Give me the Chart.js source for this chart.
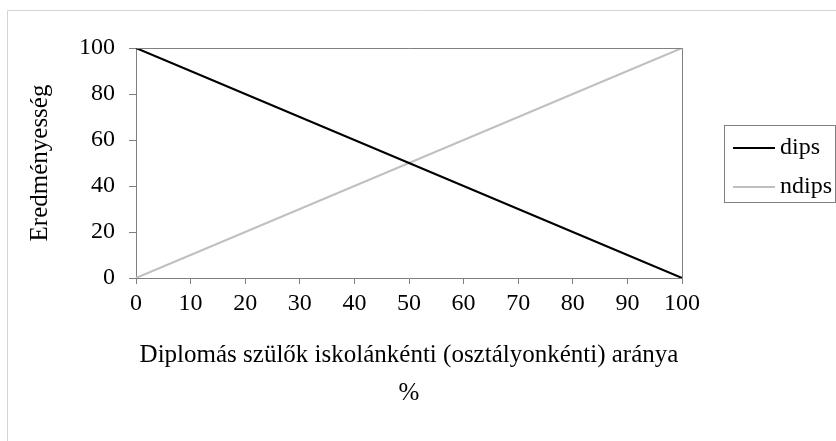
<!DOCTYPE html>
<html>
<head>
<meta charset="utf-8">
<script src="https://cdn.jsdelivr.net/npm/chart.js@4/dist/chart.umd.min.js"></script>
<style>
  html, body { margin: 0; padding: 0; background: #fff; }
  #wrap { width: 836px; height: 441px; }
</style>
</head>
<body>
<div id="wrap"><canvas id="chart" width="836" height="441"></canvas></div>
<script>
// Data
const xLabels = ['0', '10', '20', '30', '40', '50', '60', '70', '80', '90', '100'];
const dipsValues = [100, 90, 80, 70, 60, 50, 40, 30, 20, 10, 0];
const ndipsValues = [0, 10, 20, 30, 40, 50, 60, 70, 80, 90, 100];
const seriesNames = ['dips', 'ndips'];
const seriesColors = ['#000000', '#c0c0c0'];

const FONT = "'Liberation Serif', 'Times New Roman', serif";
const AXIS_GRAY = '#808080';

// Frame lines, plot border and the boxed legend on the right
const decorPlugin = {
    id: 'decor',
    beforeDraw(chart) {
        const ctx = chart.ctx;
        ctx.save();
        ctx.strokeStyle = '#d4d4d4';
        ctx.lineWidth = 1;
        ctx.beginPath();
        ctx.moveTo(7.5, 441);
        ctx.lineTo(7.5, 10.5);
        ctx.lineTo(836, 10.5);
        ctx.stroke();
        ctx.restore();
    },
    afterDatasetsDraw(chart) {
        const ctx = chart.ctx;
        const a = chart.chartArea;
        ctx.save();
        ctx.strokeStyle = AXIS_GRAY;
        ctx.lineWidth = 1;
        ctx.beginPath();
        ctx.moveTo(Math.round(a.left) + 0.5, Math.round(a.top) + 0.5);
        ctx.lineTo(Math.round(a.right) + 0.5, Math.round(a.top) + 0.5);
        ctx.lineTo(Math.round(a.right) + 0.5, Math.round(a.bottom) + 0.5);
        ctx.stroke();

        // legend box
        ctx.strokeRect(724.5, 125.5, 111, 77);
        ctx.font = '24px ' + FONT;
        ctx.textBaseline = 'middle';
        ctx.fillStyle = '#000';
        chart.data.datasets.forEach((ds, i) => {
            const y = 148 + i * 39;
            ctx.strokeStyle = ds.borderColor;
            ctx.lineWidth = 2;
            ctx.beginPath();
            ctx.moveTo(733, y);
            ctx.lineTo(775, y);
            ctx.stroke();
            ctx.fillText(ds.label, 780, y);
        });
        ctx.restore();
    }
};

new Chart(document.getElementById('chart'), {
    type: 'line',
    data: {
        labels: xLabels,
        datasets: [
            {
                label: seriesNames[0],
                data: dipsValues,
                borderColor: seriesColors[0],
                borderWidth: 2,
                pointRadius: 0,
                tension: 0
            },
            {
                label: seriesNames[1],
                data: ndipsValues,
                borderColor: seriesColors[1],
                borderWidth: 2,
                pointRadius: 0,
                tension: 0
            }
        ]
    },
    options: {
        responsive: false,
        animation: false,
        layout: { padding: { top: 48, right: 154, bottom: 0, left: 0 } },
        plugins: {
            legend: { display: false },
            tooltip: { enabled: false }
        },
        scales: {
            x: {
                offset: false,
                grid: {
                    drawOnChartArea: false,
                    drawTicks: true,
                    tickLength: 6,
                    color: AXIS_GRAY
                },
                border: { display: true, color: AXIS_GRAY, width: 1 },
                ticks: {
                    color: '#000',
                    font: { family: FONT, size: 24 },
                    padding: 5,
                    maxRotation: 0,
                    autoSkip: false
                },
                title: {
                    display: true,
                    text: ['Diplomás szülők iskolánkénti (osztályonkénti) aránya', '%'],
                    color: '#000',
                    font: { family: FONT, size: 25, lineHeight: 1.52 },
                    padding: { top: 0, bottom: 29 }
                },
                afterFit(scale) { scale.height = 163; }
            },
            y: {
                min: 0,
                max: 100,
                grid: {
                    drawOnChartArea: false,
                    drawTicks: true,
                    tickLength: 7,
                    color: AXIS_GRAY
                },
                border: { display: true, color: AXIS_GRAY, width: 1 },
                ticks: {
                    stepSize: 20,
                    color: '#000',
                    font: { family: FONT, size: 24 },
                    padding: 14
                },
                title: {
                    display: true,
                    text: 'Eredményesség',
                    color: '#000',
                    font: { family: FONT, size: 25 },
                    padding: { top: 25, bottom: 0 }
                },
                afterFit(scale) { scale.width = 136; }
            }
        }
    },
    plugins: [decorPlugin]
});
</script>
</body>
</html>
